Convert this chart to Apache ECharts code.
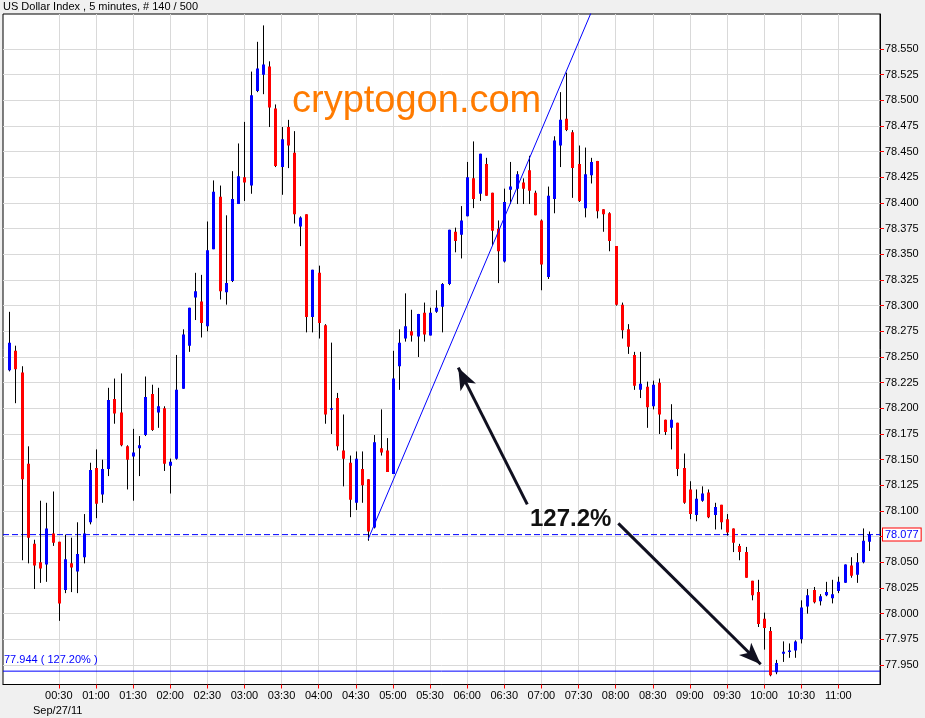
<!DOCTYPE html>
<html>
<head>
<meta charset="utf-8">
<script src="https://cdn.jsdelivr.net/npm/echarts@6.0.0/dist/echarts.min.js"></script>
<style>
html,body{margin:0;padding:0;background:#f0f0f0;}
#chart{width:925px;height:718px;}
</style>
</head>
<body>
<div id="chart"></div>
<script>
// ---- data (5-minute bars, bar 0 .. 139) ----
const opens = [
78.237,78.256,78.235,78.146,78.068,78.050,78.048,78.078,78.070,78.023,
78.049,78.041,78.055,78.089,78.142,78.116,78.141,78.209,78.196,78.163,
78.153,78.161,78.174,78.214,78.196,78.200,78.144,78.151,78.219,78.261,
78.308,78.304,78.280,78.355,78.406,78.313,78.324,78.399,78.425,78.417,
78.509,78.525,78.533,78.492,78.435,78.474,78.449,78.377,78.389,78.289,
78.332,78.281,78.199,78.210,78.159,78.147,78.108,78.141,78.131,78.084,
78.161,78.159,78.136,78.241,78.268,78.275,78.270,78.293,78.271,78.294,
78.299,78.321,78.372,78.369,78.387,78.424,78.409,78.438,78.410,78.375,
78.343,78.413,78.414,78.420,78.432,78.410,78.383,78.328,78.404,78.456,
78.482,78.469,78.438,78.395,78.427,78.441,78.394,78.390,78.358,78.301,
78.277,78.252,78.218,78.221,78.202,78.225,78.189,78.181,78.186,78.142,
78.121,78.096,78.110,78.118,78.096,78.106,78.092,78.083,78.066,78.060,
78.032,78.021,77.995,77.983,77.943,77.961,77.963,77.964,77.975,78.007,
78.023,78.012,78.018,78.015,78.022,78.030,78.047,78.038,78.050,78.070];
const closes = [
78.264,78.238,78.131,78.074,78.047,78.044,78.083,78.069,78.010,78.053,
78.045,78.058,78.078,78.140,78.107,78.141,78.208,78.195,78.164,78.150,
78.157,78.164,78.211,78.179,78.202,78.146,78.148,78.218,78.272,78.298,
78.314,78.283,78.354,78.411,78.314,78.322,78.404,78.426,78.420,78.505,
78.531,78.535,78.493,78.436,78.462,78.456,78.389,78.386,78.289,78.335,
78.283,78.194,78.200,78.163,78.151,78.111,78.151,78.125,78.080,78.167,
78.157,78.138,78.229,78.264,78.280,78.271,78.292,78.272,78.293,78.298,
78.321,78.374,78.363,78.383,78.425,78.404,78.448,78.407,78.373,78.353,
78.401,78.416,78.428,78.414,78.412,78.388,78.340,78.407,78.461,78.481,
78.471,78.434,78.402,78.428,78.440,78.392,78.389,78.363,78.301,78.276,
78.260,78.222,78.224,78.201,78.223,78.194,78.177,78.189,78.141,78.108,
78.097,78.112,78.117,78.094,78.104,78.089,78.079,78.069,78.060,78.035,
78.018,77.990,77.986,77.940,77.952,77.963,77.964,77.973,78.006,78.018,
78.011,78.017,78.021,78.019,78.031,78.048,78.037,78.050,78.071,78.077];
const lows = [
78.236,78.205,78.052,78.049,78.024,78.030,78.031,78.066,77.993,78.020,
78.021,78.020,78.049,78.087,78.093,78.108,78.134,78.185,78.163,78.121,
78.110,78.134,78.173,78.178,78.181,78.139,78.117,78.150,78.219,78.255,
78.286,78.269,78.275,78.355,78.306,78.301,78.323,78.399,78.402,78.409,
78.508,78.506,78.474,78.435,78.408,78.434,78.380,78.358,78.274,78.274,
78.268,78.185,78.175,78.159,78.124,78.094,78.101,78.108,78.071,78.083,
78.154,78.138,78.136,78.218,78.265,78.265,78.250,78.265,78.271,78.293,
78.274,78.320,78.352,78.346,78.387,78.395,78.402,78.407,78.359,78.322,
78.342,78.399,78.399,78.399,78.399,78.388,78.315,78.326,78.390,78.435,
78.470,78.405,78.401,78.386,78.419,78.385,78.372,78.353,78.300,78.268,
78.253,78.218,78.210,78.181,78.199,78.175,78.174,78.160,78.134,78.107,
78.092,78.090,78.109,78.093,78.082,78.082,78.076,78.060,78.052,78.035,
78.013,77.987,77.965,77.939,77.941,77.953,77.957,77.957,77.971,78.000,
78.010,78.008,78.017,78.010,78.020,78.030,78.035,78.030,78.049,78.061];
const highs = [
78.294,78.261,78.241,78.163,78.072,78.110,78.108,78.119,78.070,78.077,
78.074,78.089,78.097,78.147,78.160,78.150,78.220,78.229,78.234,78.164,
78.180,78.173,78.231,78.223,78.220,78.202,78.151,78.252,78.277,78.298,
78.332,78.330,78.382,78.422,78.417,78.388,78.431,78.458,78.479,78.528,
78.557,78.573,78.538,78.496,78.474,78.481,78.470,78.387,78.389,78.335,
78.339,78.282,78.264,78.215,78.194,78.154,78.158,78.158,78.131,78.174,
78.199,78.171,78.256,78.277,78.312,78.296,78.292,78.303,78.298,78.315,
78.322,78.374,78.376,78.397,78.440,78.460,78.448,78.444,78.410,78.383,
78.414,78.440,78.431,78.424,78.446,78.412,78.384,78.416,78.465,78.508,
78.527,78.471,78.456,78.454,78.444,78.441,78.394,78.391,78.358,78.303,
78.282,78.255,78.255,78.226,78.227,78.229,78.189,78.204,78.186,78.156,
78.129,78.121,78.124,78.121,78.108,78.106,78.097,78.083,78.068,78.065,
78.032,78.033,78.001,77.987,77.955,77.973,77.971,77.974,78.013,78.024,
78.026,78.019,78.031,78.033,78.036,78.048,78.055,78.059,78.083,78.080];

// x tick labels: first at bar 8, then every 6 bars (30 min)
const xTickLabels = ['00:30','01:00','01:30','02:00','02:30','03:00','03:30','04:00','04:30','05:00','05:30',
  '06:00','06:30','07:00','07:30','08:00','08:30','09:00','09:30','10:00','10:30','11:00'];
const firstTickBar = 8, barsPerTick = 6;
const yTickValues = [77.950,77.975,78.000,78.025,78.050,78.075,78.100,78.125,78.150,78.175,78.200,78.225,
  78.250,78.275,78.300,78.325,78.350,78.375,78.400,78.425,78.450,78.475,78.500,78.525,78.550];

const lastPrice = 78.077;
const targetPrice = 77.944;
const targetLabel = '77.944 ( 127.20% )';
const trendFrom = [58, 78.0725];
const trendThrough = [90, 78.528];
const arrowUp = [[83.72, 78.1065], [72.57, 78.2396]];
const arrowDown = [[98.43, 78.0880], [121.45, 77.9507]];

// ---- build ----
const X_MIN = -1.018, X_MAX = 140.73, Y_MIN = 77.931, Y_MAX = 78.5841;
const xTickBars = xTickLabels.map((_, k) => firstTickBar + k * barsPerTick);
const candleData = opens.map((o, i) => [i, o, closes[i], lows[i], highs[i]]);
const slope = (trendThrough[1] - trendFrom[1]) / (trendThrough[0] - trendFrom[0]);
const trendEndX = 97;
const trendData = [trendFrom, [trendEndX, trendFrom[1] + slope * (trendEndX - trendFrom[0])]];

const chart = echarts.init(document.getElementById('chart'), null, {renderer: 'canvas'});
const F = 'Liberation Sans, Arial, sans-serif';

chart.setOption({
  animation: false,
  backgroundColor: '#f0f0f0',
  grid: {left: 3, right: 45, top: 14, bottom: 33.5, show: true, backgroundColor: '#ffffff', borderColor: '#000000', borderWidth: 1},
  xAxis: {
    type: 'value', min: X_MIN, max: X_MAX,
    axisLine: {show: true, onZero: false, lineStyle: {color: '#000'}},
    axisTick: {show: true, length: 4, lineStyle: {color: '#ff0000'}, customValues: xTickBars},
    axisLabel: {customValues: xTickBars, color: '#000', fontFamily: F, fontSize: 11, margin: 6,
      formatter: v => xTickLabels[xTickBars.indexOf(Math.round(v))] || ''},
    splitLine: {show: true, lineStyle: {color: '#d9d9d9'}}
  },
  yAxis: {
    type: 'value', position: 'right', min: Y_MIN, max: Y_MAX,
    axisLine: {show: true, onZero: false, lineStyle: {color: '#000'}},
    axisTick: {show: true, length: 4, lineStyle: {color: '#ff0000'}, customValues: yTickValues},
    axisLabel: {customValues: yTickValues.filter(v => Math.abs(v - 78.075) > 1e-6), color: '#000', fontFamily: F, fontSize: 11, margin: 5,
      formatter: v => v.toFixed(3)},
    splitLine: {show: true, lineStyle: {color: '#d9d9d9'}}
  },
  series: [
    {
      type: 'line', data: [[X_MIN, lastPrice], [X_MAX, lastPrice]], z: 2, color: '#0000ff',
      symbol: 'none', showSymbol: false, clip: false, silent: true,
      lineStyle: {color: '#0000ff', width: 1, type: [6, 3]},
      endLabel: {show: true, distance: 3, formatter: lastPrice.toFixed(3), color: '#0000ff',
        fontFamily: F, fontSize: 11, backgroundColor: '#fff', borderColor: '#ff0000', borderWidth: 1, padding: [1, 2, 0, 2]}
    },
    {
      type: 'line', data: [[X_MIN, targetPrice], [X_MAX, targetPrice]], z: 2, color: '#0000ff',
      symbol: 'none', showSymbol: false, silent: true,
      lineStyle: {color: '#0000ff', width: 1, type: 'solid'}
    },
    {
      type: 'custom',
      data: candleData,
      encode: {x: 0, y: [1, 2, 3, 4]},
      clip: true,
      z: 3,
      renderItem: function (params, api) {
        const x = api.value(0), o = api.value(1), c = api.value(2), l = api.value(3), h = api.value(4);
        const pH = api.coord([x, h]), pL = api.coord([x, l]);
        const pO = api.coord([x, o]), pC = api.coord([x, c]);
        const xc = Math.round(pH[0]);
        const top = Math.min(pO[1], pC[1]), bot = Math.max(pO[1], pC[1]);
        return {type: 'group', children: [
          {type: 'line', shape: {x1: xc + 0.5, y1: pH[1], x2: xc + 0.5, y2: pL[1]}, style: {stroke: '#000', lineWidth: 1}},
          {type: 'rect', shape: {x: xc - 1, y: top, width: 3, height: Math.max(bot - top, 1.5)},
            style: {fill: c >= o ? '#0000ff' : '#ff0000'}}
        ]};
      }
    },
    {
      type: 'line', data: trendData, symbol: 'none', clip: true, z: 4, color: '#0000ff',
      lineStyle: {color: '#0000ff', width: 1}
    },
    {
      type: 'line', data: [], z: 5, color: '#101020',
      markLine: {
        silent: true, symbol: ['none', 'arrow'], symbolSize: [13, 22],
        lineStyle: {color: '#101020', width: 3, type: 'solid'},
        label: {show: false},
        data: [
          [{coord: arrowUp[0]}, {coord: arrowUp[1]}],
          [{coord: arrowDown[0]}, {coord: arrowDown[1]}]
        ]
      }
    }
  ],
  graphic: [
    {type: 'text', left: 3, top: 1, style: {text: 'US Dollar Index , 5 minutes, # 140 / 500', fill: '#000', font: '11px ' + F}},
    {type: 'text', left: 33, top: 705, style: {text: 'Sep/27/11', fill: '#000', font: '11px ' + F}},
    {type: 'text', left: 292, top: 83, z: 10, style: {text: 'cryptogon.com', fill: '#ff7b00', font: '38px ' + F}},
    {type: 'text', left: 530, top: 507, z: 10, style: {text: '127.2%', fill: '#111', font: 'bold 24px ' + F}}
  ]
});

// target label placed from data coordinates
const tp = chart.convertToPixel({gridIndex: 0}, [X_MIN, targetPrice]);
chart.setOption({graphic: [
  {type: 'text', left: 3, top: 1, style: {text: 'US Dollar Index , 5 minutes, # 140 / 500', fill: '#000', font: '11px ' + F}},
  {type: 'text', left: 33, top: 705, style: {text: 'Sep/27/11', fill: '#000', font: '11px ' + F}},
  {type: 'text', left: 292, top: 83, z: 10, style: {text: 'cryptogon.com', fill: '#ff7b00', font: '38px ' + F}},
  {type: 'text', left: 530, top: 507, z: 10, style: {text: '127.2%', fill: '#111', font: 'bold 24px ' + F}},
  {type: 'text', x: tp[0] + 1, y: tp[1] - 17, z: 10, style: {text: targetLabel, fill: '#0000ff', font: '11px ' + F}}
]});
</script>
</body>
</html>
